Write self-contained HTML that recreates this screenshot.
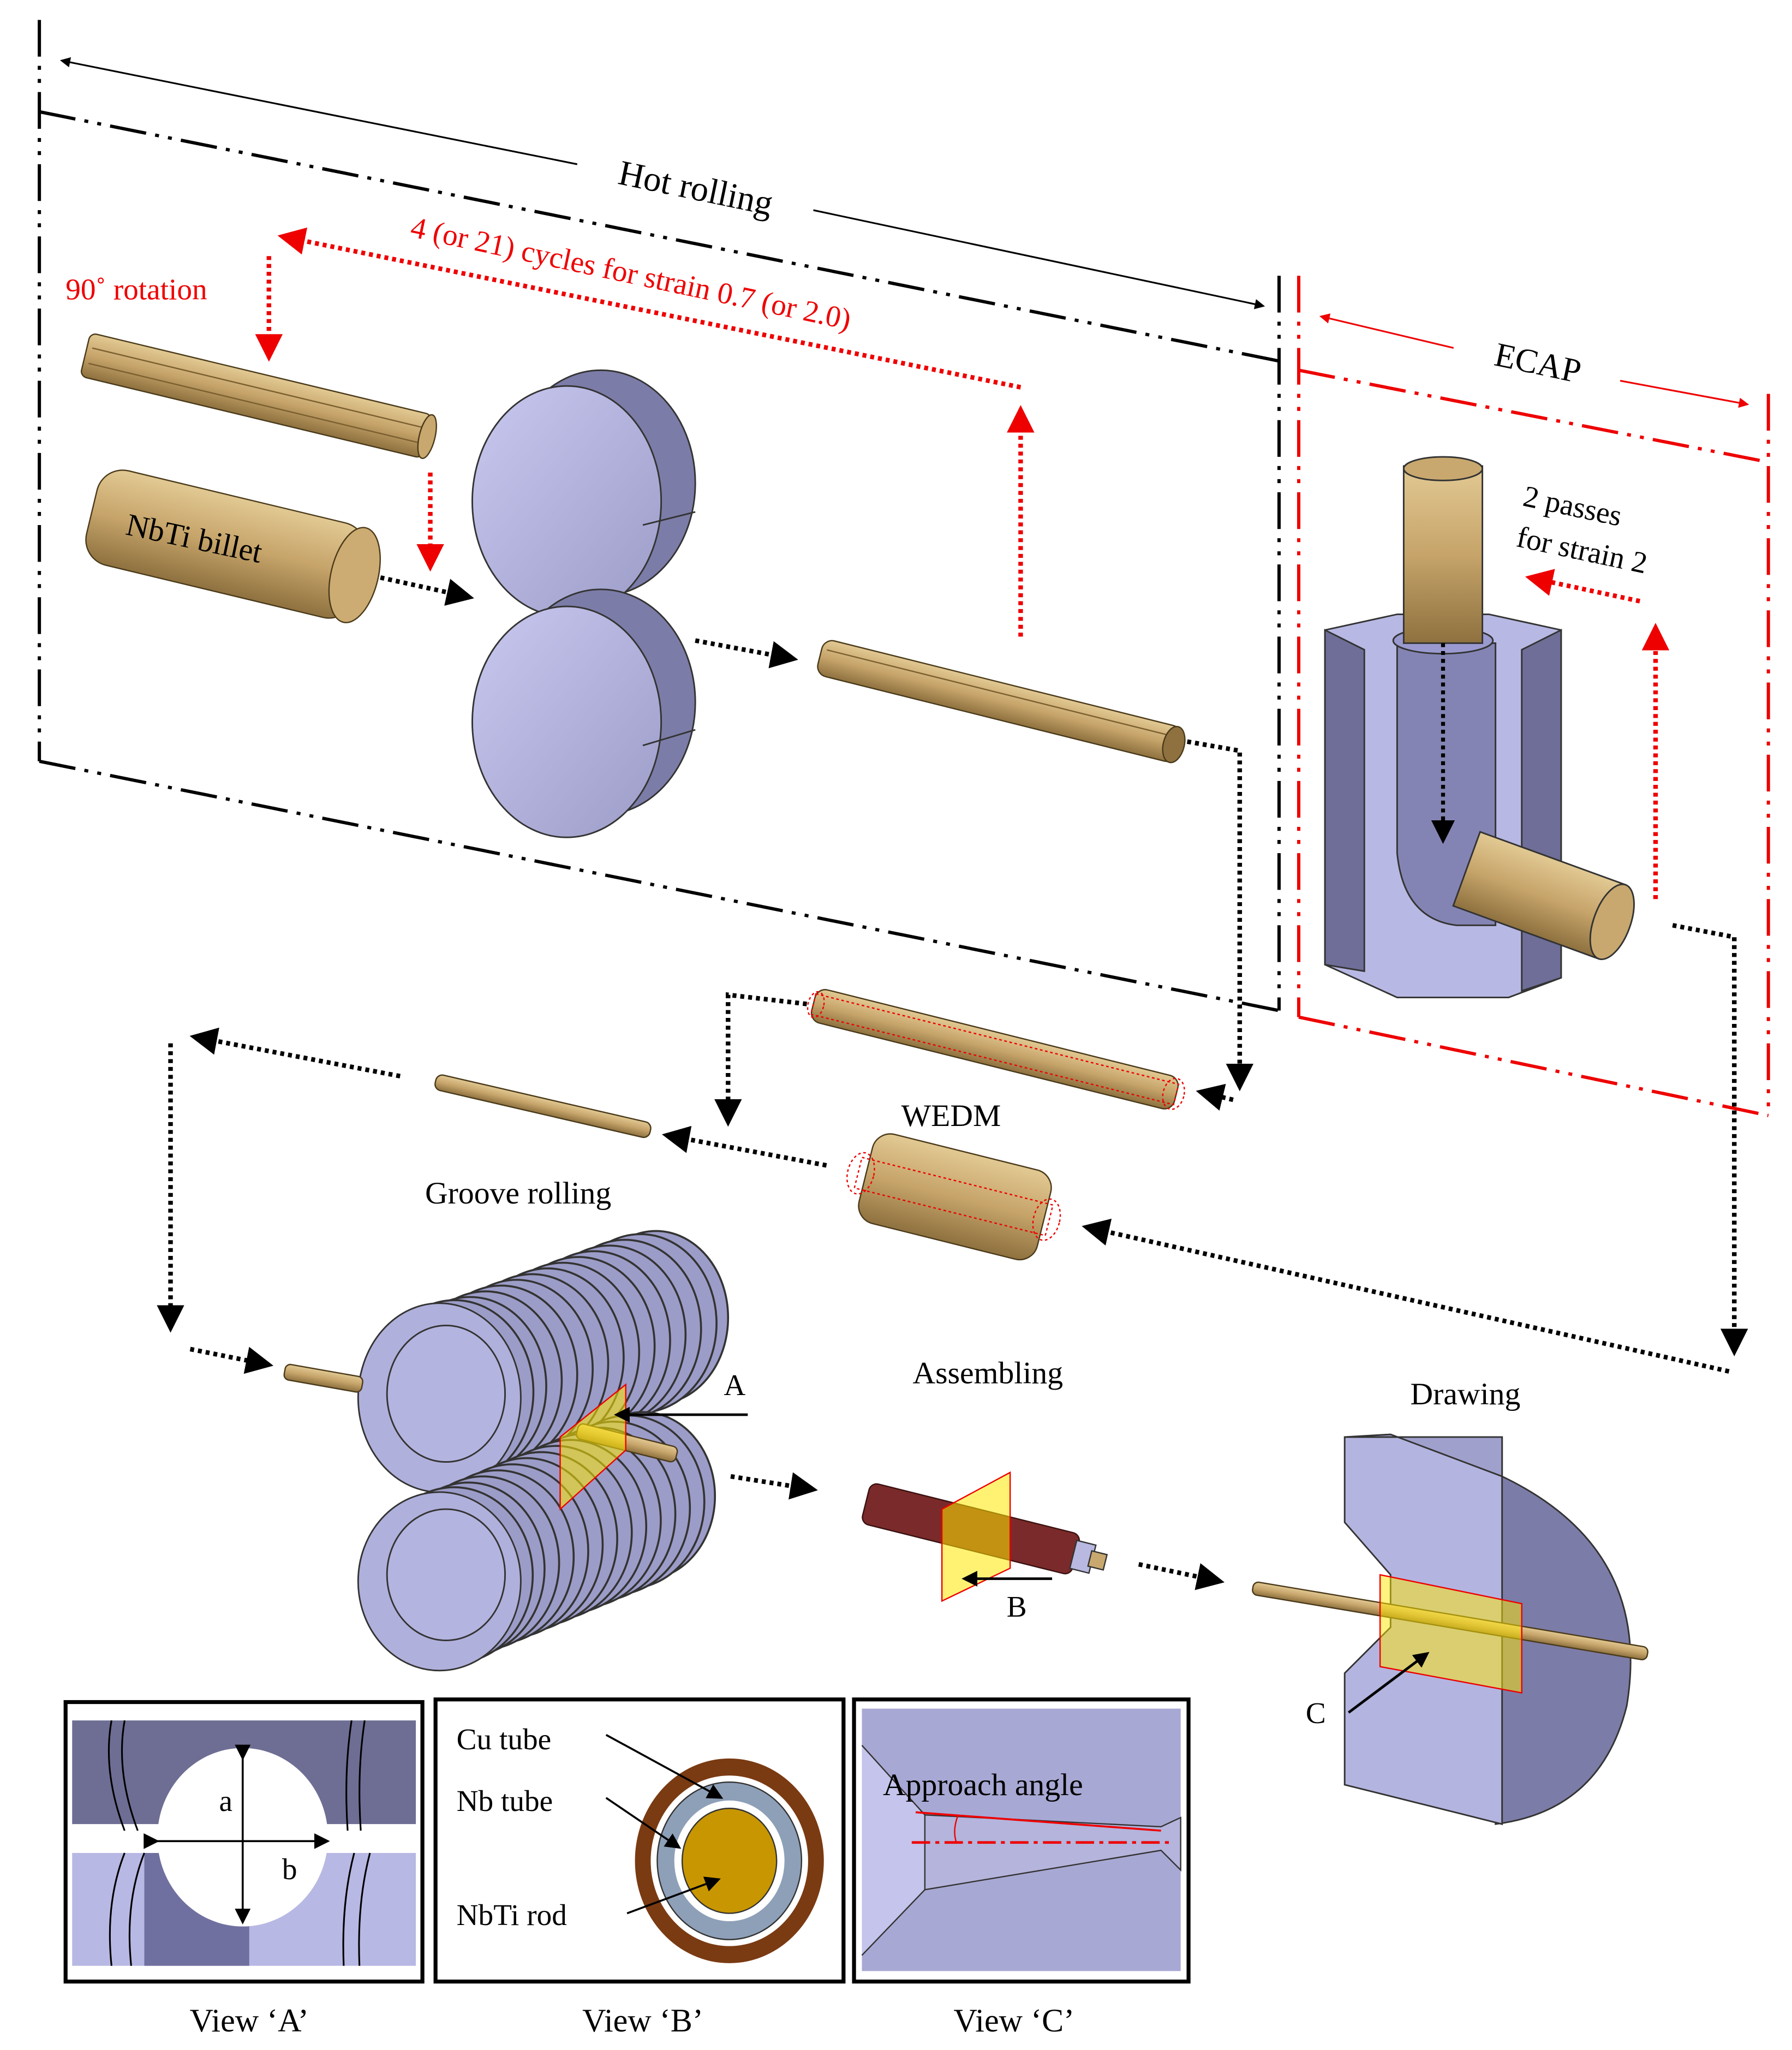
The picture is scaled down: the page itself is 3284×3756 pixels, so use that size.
<!DOCTYPE html>
<html><head><meta charset="utf-8"><style>
html,body{margin:0;padding:0;background:#fff}
svg{display:block}
text{font-family:"Liberation Serif",serif}
</style></head><body>
<svg width="3284" height="3756" viewBox="0 0 1366 1562" xmlns="http://www.w3.org/2000/svg">
<defs>
<marker id="ak" markerWidth="8" markerHeight="8" refX="7" refY="4" orient="auto" markerUnits="strokeWidth"><path d="M0,0 L8,4 L0,8z" fill="#000"/></marker>
<marker id="ak2" markerWidth="6" markerHeight="6" refX="5" refY="3" orient="auto" markerUnits="strokeWidth"><path d="M0,0 L6,3 L0,6z" fill="#000"/></marker>
<marker id="ar2" markerWidth="6" markerHeight="6" refX="5" refY="3" orient="auto" markerUnits="strokeWidth"><path d="M0,0 L6,3 L0,6z" fill="#e00"/></marker>
<linearGradient id="tan" x1="0" y1="0" x2="0" y2="1"><stop offset="0" stop-color="#e2c993"/><stop offset="0.5" stop-color="#c6a46a"/><stop offset="1" stop-color="#8e713f"/></linearGradient>
<linearGradient id="pur" x1="0" y1="0" x2="1" y2="1"><stop offset="0" stop-color="#c8c8f0"/><stop offset="1" stop-color="#9c9cc8"/></linearGradient>
</defs>

<g stroke="#000" stroke-width="2.5" fill="none" stroke-dasharray="28,7,3,7,3,7">
<path d="M30,15 V580"/>
<path d="M30,85 L975,275"/>
<path d="M30,580 L975,770"/>
<path d="M975,210 V770"/>
</g>
<line x1="440" y1="125" x2="47" y2="46" stroke="#000" stroke-width="1.3" marker-end="url(#ak2)"/>
<line x1="620" y1="160" x2="963" y2="233" stroke="#000" stroke-width="1.3" marker-end="url(#ak2)"/>
<text x="530" y="152" font-size="27" text-anchor="middle" transform="rotate(11.7 530 145)">Hot rolling</text>

<g stroke="#e00" stroke-width="2.5" fill="none" stroke-dasharray="28,7,3,7,3,7">
<path d="M990,210 V775"/>
<path d="M1348,300 V850"/>
<path d="M990,282 L1348,352"/>
<path d="M990,775 L1348,850"/>
</g>
<line x1="1108" y1="265" x2="1007" y2="241" stroke="#e00" stroke-width="1.3" marker-end="url(#ar2)"/>
<line x1="1235" y1="290" x2="1332" y2="308" stroke="#e00" stroke-width="1.3" marker-end="url(#ar2)"/>
<text x="1172" y="285" font-size="26" text-anchor="middle" transform="rotate(12 1172 278)">ECAP</text>
<text x="1160" y="385" font-size="23" transform="rotate(12 1160 385)">2 passes</text>
<text x="1155" y="416" font-size="23" transform="rotate(12 1155 416)">for strain 2</text>

<g stroke="#e00" stroke-width="3.5" fill="none" stroke-dasharray="3,3">
<path d="M778,295 L215,180" marker-end="url(#ar2)"/>
<path d="M205,195 V272" marker-end="url(#ar2)"/>
<path d="M778,485 V312" marker-end="url(#ar2)"/>
<path d="M328,360 V432" marker-end="url(#ar2)"/>
<path d="M1250,458 L1166,440" marker-end="url(#ar2)"/>
<path d="M1262,685 V478" marker-end="url(#ar2)"/>
</g>
<text x="50" y="228" font-size="23" fill="#e00">90˚ rotation</text>
<text x="312" y="180" font-size="23" fill="#e00" transform="rotate(12 312 180)">4 (or 21) cycles  for strain 0.7 (or 2.0)</text>

<g transform="translate(65,270) rotate(13.5)">
<rect x="0" y="-17" width="268" height="34" rx="5" fill="url(#tan)" stroke="#4a3a1a" stroke-width="1"/>
<line x1="4" y1="-6" x2="266" y2="-6" stroke="#7a5f30"/><line x1="4" y1="6" x2="266" y2="6" stroke="#7a5f30"/>
<ellipse cx="268" cy="0" rx="6" ry="17" fill="#c8a86e" stroke="#4a3a1a"/>
</g>
<g transform="translate(70,390) rotate(13.5)">
<rect x="0" y="-37" width="210" height="74" rx="20" fill="url(#tan)" stroke="#4a3a1a"/>
<ellipse cx="206" cy="0" rx="18" ry="37" fill="#ccac72" stroke="#4a3a1a"/>
</g>
<text x="95" y="407" font-size="24" transform="rotate(12 95 407)">NbTi billet</text>

<g stroke="#333" stroke-width="1.2">
<ellipse cx="458" cy="368" rx="72" ry="86" fill="#7c7ca8"/>
<ellipse cx="432" cy="382" rx="72" ry="88" fill="url(#pur)"/>
<ellipse cx="458" cy="535" rx="72" ry="86" fill="#7c7ca8"/>
<ellipse cx="432" cy="550" rx="72" ry="88" fill="url(#pur)"/>
<line x1="490" y1="400" x2="530" y2="390"/><line x1="490" y1="568" x2="530" y2="556"/>
</g>

<g transform="translate(625,500) rotate(14)">
<rect x="0" y="-14" width="282" height="28" rx="8" fill="url(#tan)" stroke="#4a3a1a"/>
<line x1="4" y1="-6" x2="276" y2="-6" stroke="#7a5f30"/>
<ellipse cx="278" cy="0" rx="8" ry="14" fill="#8e713f" stroke="#4a3a1a"/>
</g>

<g stroke="#000" stroke-width="3.5" fill="none" stroke-dasharray="3,3">
<path d="M290,440 L358,455" marker-end="url(#ak2)"/>
<path d="M530,488 L605,502" marker-end="url(#ak2)"/>
<path d="M905,565 L945,572 V828" marker-end="url(#ak2)"/>
<path d="M940,838 L915,832" marker-end="url(#ak2)"/>
<path d="M615,765 L555,758 V855" marker-end="url(#ak2)"/>
<path d="M630,888 L508,865" marker-end="url(#ak2)"/>
<path d="M305,820 L148,790" marker-end="url(#ak2)"/>
<path d="M130,795 V1012" marker-end="url(#ak2)"/>
<path d="M145,1028 L205,1040" marker-end="url(#ak2)"/>
<path d="M1275,705 L1322,714 V1030" marker-end="url(#ak2)"/>
<path d="M1318,1045 L828,935" marker-end="url(#ak2)"/>
<path d="M557,1125 L620,1135" marker-end="url(#ak2)"/>
<path d="M868,1192 L930,1205" marker-end="url(#ak2)"/>
</g>

<g stroke="#333" stroke-width="1.2">
<polygon points="1010,480 1065,468 1135,468 1190,480 1190,745 1150,760 1065,760 1010,735" fill="#b8b8e4"/>
<polygon points="1010,480 1040,495 1040,740 1010,735" fill="#6e6e98"/>
<polygon points="1160,495 1190,480 1190,745 1160,755" fill="#6e6e98"/>
<path d="M1065,490 L1065,650 Q1070,700 1110,705 L1140,705 L1140,490 Z" fill="#8484b4"/>
<ellipse cx="1100" cy="488" rx="38" ry="10" fill="#9a9ad0"/>
<rect x="1070" y="355" width="60" height="135" fill="url(#tan)"/>
<ellipse cx="1100" cy="357" rx="30" ry="9" fill="#c8a86e"/>
<g transform="translate(1118,662) rotate(20)">
<rect x="0" y="-30" width="118" height="60" fill="url(#tan)"/>
<ellipse cx="118" cy="0" rx="14" ry="30" fill="#c8a86e"/>
</g>
</g>
<path d="M1100,490 V640" stroke="#000" stroke-width="3" stroke-dasharray="3,3" marker-end="url(#ak2)"/>

<g transform="translate(620,765) rotate(14)">
<rect x="0" y="-13" width="285" height="26" rx="8" fill="url(#tan)" stroke="#4a3a1a"/>
<rect x="0" y="-8" width="285" height="16" fill="none" stroke="#e00" stroke-dasharray="2,2"/>
<ellipse cx="2" cy="0" rx="6" ry="10" fill="none" stroke="#e00" stroke-dasharray="2,2"/>
<ellipse cx="283" cy="0" rx="8" ry="12" fill="none" stroke="#e00" stroke-dasharray="2,2"/>
</g>
<text x="725" y="858" font-size="24" text-anchor="middle">WEDM</text>

<g transform="translate(332,824) rotate(13)">
<rect x="0" y="-6" width="168" height="12" rx="5" fill="url(#tan)" stroke="#4a3a1a"/>
</g>
<text x="395" y="917" font-size="24" text-anchor="middle">Groove rolling</text>

<g transform="translate(660,895) rotate(14)">
<rect x="0" y="-35" width="140" height="70" rx="14" fill="url(#tan)" stroke="#4a3a1a"/>
<rect x="-6" y="-12" width="150" height="24" fill="none" stroke="#e00" stroke-dasharray="2,2"/>
<ellipse cx="-4" cy="0" rx="10" ry="16" fill="none" stroke="#e00" stroke-dasharray="2,2"/>
<ellipse cx="142" cy="0" rx="10" ry="16" fill="none" stroke="#e00" stroke-dasharray="2,2"/>
</g>

<!-- groove rolls: top -->
<g stroke="#333" stroke-width="1.5" fill="#9c9cc8">
<ellipse cx="500" cy="1004" rx="55" ry="66"/>
<ellipse cx="488.2" cy="1008.4" rx="58" ry="68"/>
<ellipse cx="476.4" cy="1012.7" rx="58" ry="68"/>
<ellipse cx="464.6" cy="1017.1" rx="58" ry="68"/>
<ellipse cx="452.8" cy="1021.4" rx="58" ry="68"/>
<ellipse cx="441" cy="1025.8" rx="58" ry="68"/>
<ellipse cx="429.2" cy="1030.2" rx="58" ry="68"/>
<ellipse cx="417.4" cy="1034.5" rx="58" ry="68"/>
<ellipse cx="405.6" cy="1038.9" rx="58" ry="68"/>
<ellipse cx="393.8" cy="1043.2" rx="58" ry="68"/>
<ellipse cx="382" cy="1047.6" rx="58" ry="68"/>
<ellipse cx="370.2" cy="1052" rx="58" ry="68"/>
<ellipse cx="358.4" cy="1056.3" rx="58" ry="68"/>
<ellipse cx="346.6" cy="1060.7" rx="60" ry="70"/>
<ellipse cx="335" cy="1065" rx="62" ry="72" fill="#b0b0dc" stroke-width="1.2"/>
<ellipse cx="340" cy="1062" rx="45" ry="52" fill="#b4b4e0" stroke-width="1.2"/>
</g>
<!-- bottom -->
<g stroke="#333" stroke-width="1.5" fill="#9c9cc8">
<ellipse cx="490" cy="1140" rx="55" ry="64"/>
<ellipse cx="478.9" cy="1144.6" rx="58" ry="66"/>
<ellipse cx="467.9" cy="1149.3" rx="58" ry="66"/>
<ellipse cx="456.8" cy="1153.9" rx="58" ry="66"/>
<ellipse cx="445.7" cy="1158.6" rx="58" ry="66"/>
<ellipse cx="434.6" cy="1163.2" rx="58" ry="66"/>
<ellipse cx="423.6" cy="1167.8" rx="58" ry="66"/>
<ellipse cx="412.5" cy="1172.5" rx="58" ry="66"/>
<ellipse cx="401.4" cy="1177.1" rx="58" ry="66"/>
<ellipse cx="390.4" cy="1181.8" rx="58" ry="66"/>
<ellipse cx="379.3" cy="1186.4" rx="58" ry="66"/>
<ellipse cx="368.2" cy="1191" rx="58" ry="66"/>
<ellipse cx="357.1" cy="1195.7" rx="58" ry="66"/>
<ellipse cx="346.1" cy="1200.3" rx="60" ry="67"/>
<ellipse cx="335" cy="1205" rx="62" ry="68" fill="#b0b0dc" stroke-width="1.2"/>
<ellipse cx="340" cy="1200" rx="45" ry="50" fill="#b4b4e0" stroke-width="1.2"/>
</g>
<g transform="translate(217,1045) rotate(10)"><rect x="0" y="-6" width="60" height="12" rx="4" fill="url(#tan)" stroke="#4a3a1a"/></g>
<g transform="translate(440,1090) rotate(14)"><rect x="0" y="-6" width="78" height="12" rx="4" fill="url(#tan)" stroke="#4a3a1a"/></g>
<polygon points="427,1095 477,1055 477,1105 427,1150" fill="#ffe800" fill-opacity="0.55" stroke="#e00" stroke-width="1"/>
<line x1="570" y1="1078" x2="470" y2="1078" stroke="#000" stroke-width="2" marker-end="url(#ak2)"/>
<text x="560" y="1063" font-size="23" text-anchor="middle">A</text>
<text x="753" y="1054" font-size="24" text-anchor="middle">Assembling</text>

<g transform="translate(660,1145) rotate(14)">
<rect x="0" y="-16" width="165" height="32" rx="6" fill="#7a2a2a" stroke="#3a1010"/>
<rect x="163" y="-11" width="15" height="22" fill="#b8b8e0" stroke="#333"/>
<rect x="176" y="-6" width="12" height="12" fill="#c8a86e" stroke="#333"/>
</g>
<polygon points="718,1150 770,1122 770,1195 718,1220" fill="#ffe800" fill-opacity="0.55" stroke="#e00" stroke-width="1"/>
<line x1="802" y1="1203" x2="735" y2="1203" stroke="#000" stroke-width="2" marker-end="url(#ak2)"/>
<text x="775" y="1232" font-size="23" text-anchor="middle">B</text>

<text x="1117" y="1070" font-size="24" text-anchor="middle">Drawing</text>
<g stroke="#333" stroke-width="1.2">
<path d="M1145,1125 Q1260,1180 1240,1300 Q1220,1380 1140,1390 Z" fill="#7c7ca8"/>
<polygon points="1025,1095 1145,1095 1145,1390 1025,1360 1025,1275 1060,1240 1060,1200 1025,1160" fill="#b4b4e0"/>
<polygon points="1025,1095 1060,1093 1145,1125 1145,1095" fill="#a0a0cc"/>
</g>
<g transform="translate(955,1210) rotate(9.5)"><rect x="0" y="-5" width="305" height="10" rx="4" fill="url(#tan)" stroke="#4a3a1a"/></g>
<polygon points="1052,1200 1160,1222 1160,1290 1052,1270" fill="#ffe800" fill-opacity="0.5" stroke="#e00" stroke-width="1"/>
<line x1="1028" y1="1305" x2="1088" y2="1260" stroke="#000" stroke-width="2" marker-end="url(#ak2)"/>
<text x="1003" y="1313" font-size="23" text-anchor="middle">C</text>

<rect x="50" y="1297" width="272" height="213" fill="#fff" stroke="#000" stroke-width="3"/>
<rect x="55" y="1311" width="262" height="80" fill="#6e6e94"/>
<rect x="55" y="1410" width="262" height="88" fill="#b8b8e4"/>
<rect x="110" y="1410" width="80" height="88" fill="#7070a0"/>
<ellipse cx="185" cy="1400" rx="65" ry="68" fill="#fff"/>
<rect x="55" y="1390" width="262" height="22" fill="#fff"/>
<g stroke="#000" stroke-width="1.3" fill="none">
<path d="M85,1311 Q78,1350 95,1395 M95,1311 Q88,1350 105,1395 M85,1498 Q80,1450 95,1412 M100,1498 Q95,1450 110,1412"/>
<path d="M268,1311 Q262,1350 265,1395 M278,1311 Q272,1350 275,1395 M262,1498 Q260,1450 270,1412 M274,1498 Q272,1450 282,1412"/>
</g>
<line x1="185" y1="1340" x2="185" y2="1465" stroke="#000" stroke-width="1.5" marker-end="url(#ak)" marker-start="url(#ak)"/>
<line x1="120" y1="1403" x2="250" y2="1403" stroke="#000" stroke-width="1.5" marker-end="url(#ak)" marker-start="url(#ak)"/>
<text x="167" y="1380" font-size="23">a</text>
<text x="215" y="1432" font-size="23">b</text>
<text x="190" y="1548" font-size="25" text-anchor="middle">View ‘A’</text>

<rect x="332" y="1295" width="311" height="215" fill="#fff" stroke="#000" stroke-width="3"/>
<ellipse cx="556" cy="1418" rx="72" ry="78" fill="#7a3a12"/>
<ellipse cx="556" cy="1418" rx="60" ry="65" fill="#fff"/>
<ellipse cx="556" cy="1418" rx="55" ry="60" fill="#8ea0b8" stroke="#333"/>
<ellipse cx="556" cy="1418" rx="42" ry="46" fill="#fff"/>
<ellipse cx="556" cy="1418" rx="36" ry="40" fill="#c89600" stroke="#333"/>
<text x="348" y="1333" font-size="23">Cu tube</text>
<text x="348" y="1380" font-size="23">Nb tube</text>
<text x="348" y="1467" font-size="23">NbTi rod</text>
<g stroke="#000" stroke-width="1.5">
<line x1="462" y1="1322" x2="550" y2="1370" marker-end="url(#ak)"/>
<line x1="462" y1="1370" x2="518" y2="1408" marker-end="url(#ak)"/>
<line x1="478" y1="1458" x2="548" y2="1432" marker-end="url(#ak)"/>
</g>
<text x="490" y="1548" font-size="25" text-anchor="middle">View ‘B’</text>

<rect x="651" y="1295" width="255" height="215" fill="#fff" stroke="#000" stroke-width="3"/>
<rect x="657" y="1302" width="243" height="200" fill="#a8a8d4"/>
<polygon points="657,1330 705,1383 705,1440 657,1490" fill="#c4c4ec"/>
<polygon points="705,1383 885,1392 900,1385 900,1425 885,1410 705,1440" fill="#b4b4dc" stroke="#333" stroke-width="1"/>
<line x1="657" y1="1330" x2="705" y2="1383" stroke="#333"/><line x1="657" y1="1490" x2="705" y2="1440" stroke="#333"/>
<line x1="698" y1="1381" x2="885" y2="1395" stroke="#e00" stroke-width="1.5"/>
<line x1="695" y1="1404" x2="895" y2="1404" stroke="#e00" stroke-width="2" stroke-dasharray="14,4,3,4"/>
<path d="M730,1384 Q726,1395 729,1404" stroke="#e00" fill="none"/>
<text x="673" y="1368" font-size="24">Approach angle</text>
<text x="773" y="1548" font-size="25" text-anchor="middle">View ‘C’</text>
</svg>
</body></html>
